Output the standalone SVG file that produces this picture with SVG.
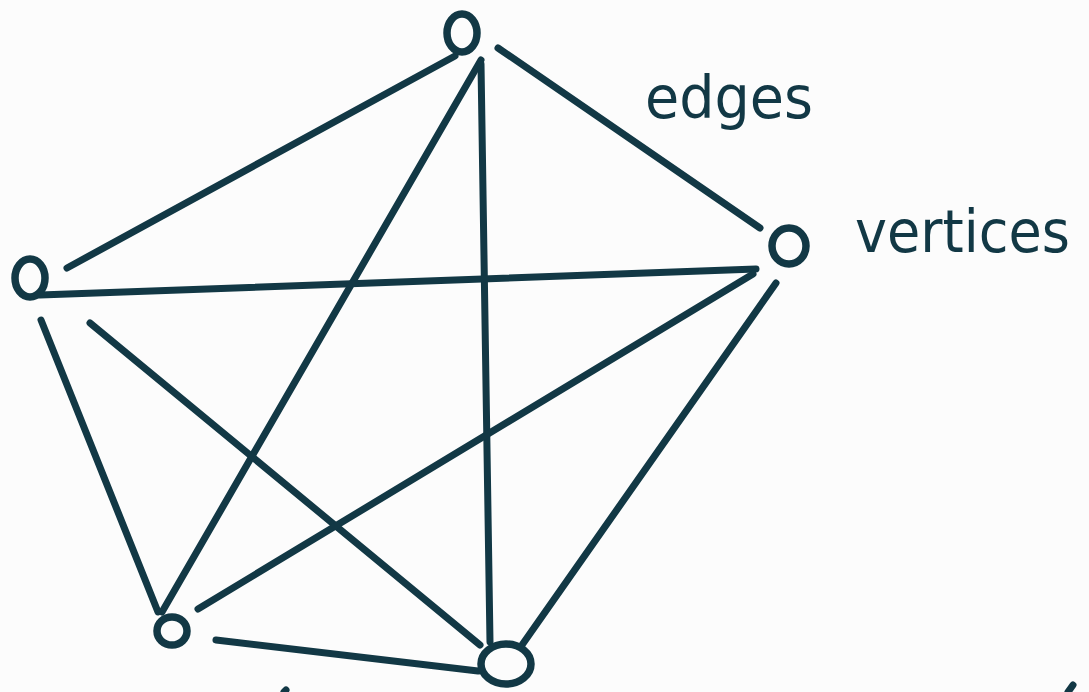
<svg xmlns="http://www.w3.org/2000/svg" width="1089" height="692" viewBox="0 0 1089 692">
<style>
.v{fill:none;stroke:#123845;stroke-width:7.5;stroke-linecap:round}
.e line{stroke:#123845;stroke-width:7;stroke-linecap:round}
.lbl{fill:#123845;font-family:"DejaVu Sans",sans-serif}
</style>
<rect width="1089" height="692" fill="#fcfcfc"/>
<g id="connectors" class="e">
<line x1="67" y1="268" x2="455" y2="56"/>
<line x1="498" y1="48" x2="760" y2="228"/>
<line x1="481" y1="60" x2="162" y2="612"/>
<line x1="481" y1="64" x2="490" y2="642"/>
<line x1="40" y1="295" x2="756" y2="269"/>
<line x1="41" y1="320" x2="158" y2="612"/>
<line x1="90" y1="323" x2="480" y2="645"/>
<line x1="753" y1="274" x2="198" y2="609"/>
<line x1="776" y1="283" x2="522" y2="645"/>
<line x1="216" y1="640" x2="478" y2="671"/>
<line x1="284" y1="692" x2="286" y2="690"/>
<line x1="1068" y1="692" x2="1073" y2="685"/>
</g>
<g id="v-top"><ellipse class="v" cx="462" cy="33" rx="15" ry="19"/></g>
<g id="v-left"><ellipse class="v" cx="30" cy="278" rx="15" ry="19"/></g>
<g id="v-right"><ellipse class="v" cx="789" cy="246" rx="17" ry="18"/></g>
<g id="v-bottomleft"><ellipse class="v" cx="172" cy="631" rx="15" ry="14"/></g>
<g id="v-bottom"><ellipse class="v" cx="506" cy="664" rx="25" ry="20"/></g>
<g id="label-edges"><text class="lbl" x="645" y="118" font-size="58" textLength="168" lengthAdjust="spacingAndGlyphs">edges</text></g>
<g id="label-vertices"><text class="lbl" x="855" y="252" font-size="58" textLength="215" lengthAdjust="spacingAndGlyphs">vertices</text></g>
</svg>
